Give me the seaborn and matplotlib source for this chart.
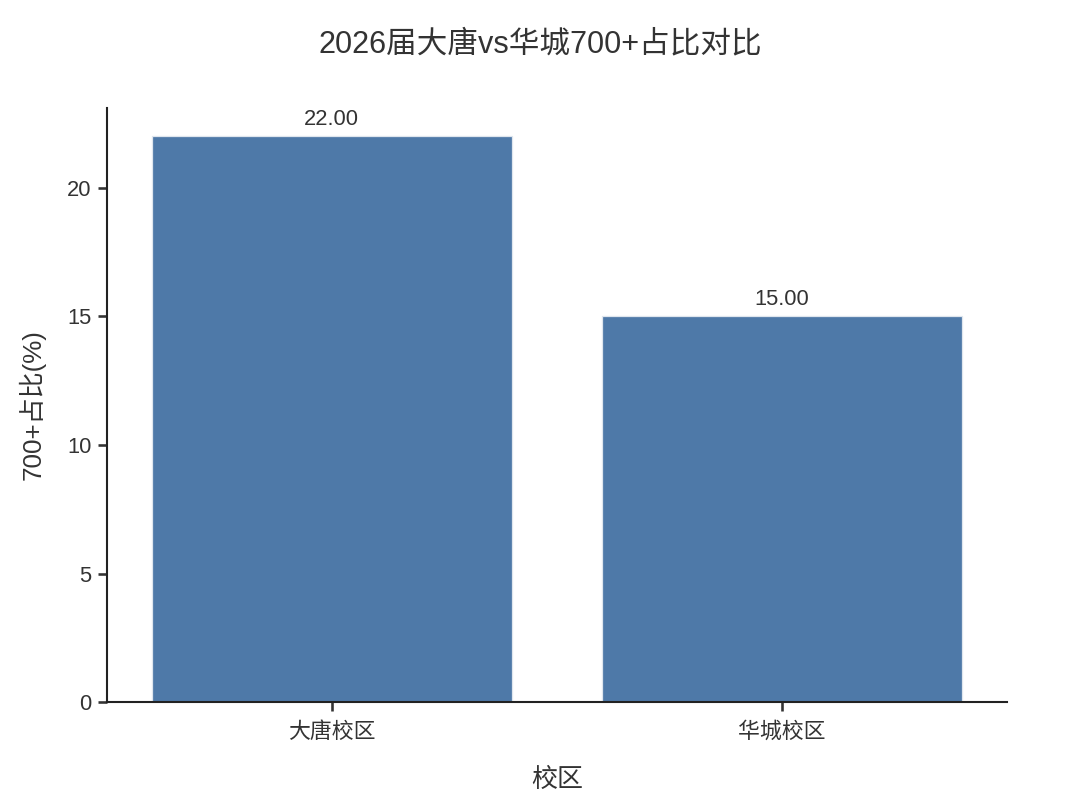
import pandas as pd
import matplotlib
matplotlib.use('Agg')
import matplotlib.pyplot as plt
import seaborn as sns

# данные с картинки
campuses = ['大唐校区', '华城校区']
shares = [22.0, 15.0]

df = pd.DataFrame({'校区': campuses, '700+占比(%)': shares})

sns.set_theme(style='ticks')
plt.rcParams['font.family'] = ['Liberation Sans', 'Noto Sans CJK SC', 'DejaVu Sans']
plt.rcParams['text.color'] = '#333333'
plt.rcParams['axes.labelcolor'] = '#333333'
plt.rcParams['xtick.color'] = '#333333'
plt.rcParams['ytick.color'] = '#333333'

fig, ax = plt.subplots(figsize=(7.2, 5.4), dpi=150)
sns.barplot(data=df, x='校区', y='700+占比(%)', color='#4e79a8', saturation=1,
            width=0.8, edgecolor='#dfe6ee', linewidth=0.6, ax=ax)

for c in ax.containers:
    ax.bar_label(c, fmt='%.2f', padding=3, fontsize=10.5, color='#333333')

ax.set_ylim(0, max(shares) * 1.05)
ax.set_xlim(-0.5, 1.5)
sns.despine(ax=ax)
for s in ['left', 'bottom']:
    ax.spines[s].set_color('#222222')
    ax.spines[s].set_linewidth(1.0)
ax.tick_params(labelsize=10.5, length=4.5, pad=3)
ax.tick_params(axis='x', pad=5)

# заголовок по центру всей картинки
fig.suptitle('2026届大唐vs华城700+占比对比', fontsize=14.7, x=0.5, y=0.964)
ax.set_xlabel('校区', fontsize=12.5, labelpad=12)
ax.set_ylabel('700+占比(%)', fontsize=12.5, labelpad=10)

fig.subplots_adjust(left=0.099, right=0.932, top=0.867, bottom=0.133)
fig.savefig('out.png', dpi=150)
